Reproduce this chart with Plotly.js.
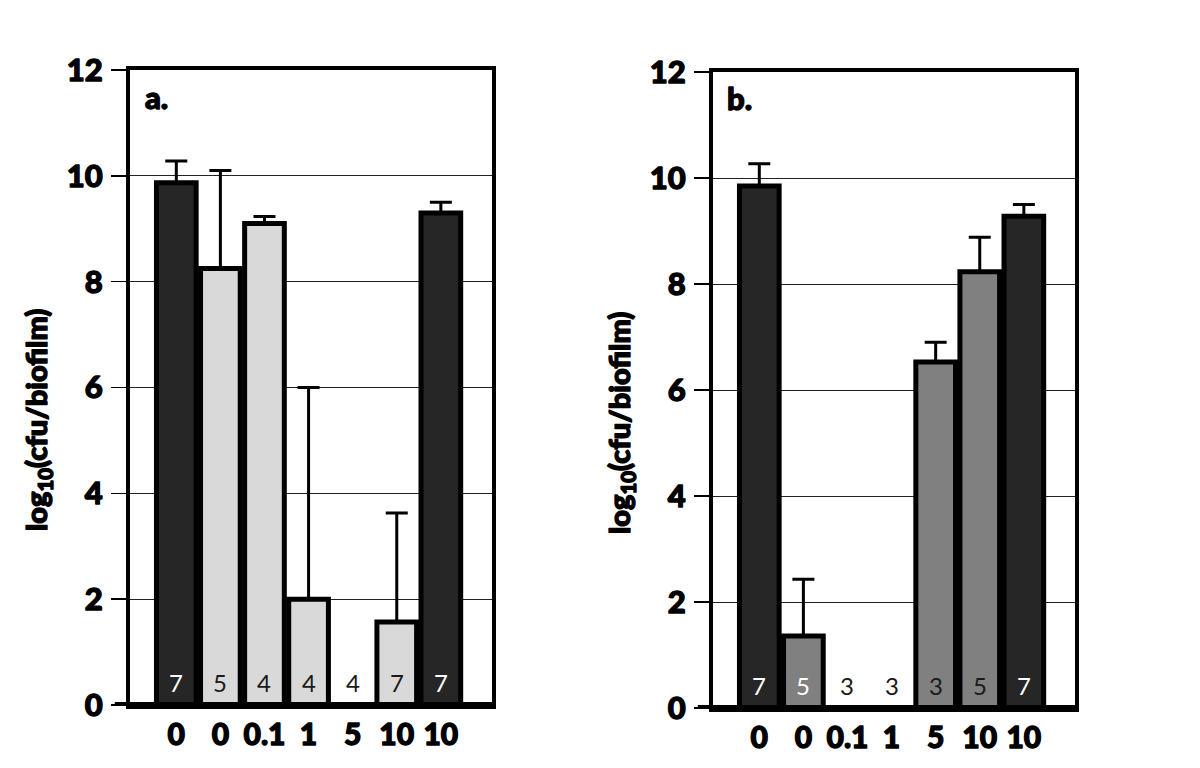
<!DOCTYPE html>
<html>
<head>
<meta charset="utf-8">
<script src="https://cdn.plot.ly/plotly-3.0.1.min.js"></script>
<style>
html,body{margin:0;padding:0;background:#fff;}
#chart{width:1200px;height:768px;}
#chart text[style*="font-weight: 900"]{stroke:#000;stroke-width:1.3px;stroke-linejoin:round;}
</style>
</head>
<body>
<div id="chart"></div>
<script>
// ---- data ----
const tickLabelsA = ["0", "0", "0.1", "1", "5", "10", "10"];
const tickLabelsB = ["0", "0", "0.1", "1", "5", "10", "10"];
const valuesA = [9.87, 8.25, 9.1, 2.0, 0, 1.57, 9.3];
const errTopA = [10.28, 10.1, 9.23, 6.0, 0, 3.63, 9.5];
const valuesB = [9.85, 1.36, 0, 0, 6.53, 8.23, 9.28];
const errTopB = [10.27, 2.43, 0, 0, 6.9, 8.88, 9.5];
const nA = ["7", "5", "4", "4", "4", "7", "7"];
const nB = ["7", "5", "3", "3", "3", "5", "7"];
const colorsA = ["#262626", "#d9d9d9", "#d9d9d9", "#d9d9d9", "#d9d9d9", "#d9d9d9", "#262626"];
const colorsB = ["#262626", "#808080", "#808080", "#808080", "#808080", "#808080", "#262626"];
const nColorsA = ["#ffffff", "#1a1a1a", "#1a1a1a", "#1a1a1a", "#1a1a1a", "#1a1a1a", "#ffffff"];
const nColorsB = ["#ffffff", "#ffffff", "#1a1a1a", "#1a1a1a", "#1a1a1a", "#1a1a1a", "#ffffff"];
const yTitle = "log<sub>10</sub>(cfu/biofilm)";
const yTicks = [0, 2, 4, 6, 8, 10, 12];

// ---- build ----
const pos = tickLabelsA.map((_, i) => i);
const FONT = "Lato, 'Open Sans', sans-serif";
const HEAVY = 900;

function barTrace(vals, errTop, colors, xa, ya) {
  return {
    type: "bar",
    x: pos,
    y: vals,
    xaxis: xa, yaxis: ya,
    width: 0.9,
    marker: { color: colors, line: { color: "#000", width: 5 } },
    error_y: {
      type: "data", symmetric: false,
      array: errTop.map((t, i) => Math.max(0, t - vals[i])),
      arrayminus: vals.map(() => 0),
      color: "#000", thickness: 3, width: 11, visible: true
    },
    hoverinfo: "skip",
    showlegend: false
  };
}

const traces = [
  barTrace(valuesA, errTopA, colorsA, "x", "y"),
  barTrace(valuesB, errTopB, colorsB, "x2", "y2")
];

function xAxis(domain, labels, anchor) {
  return {
    domain: domain, anchor: anchor,
    range: [-1.05, 7.16],
    tickvals: pos, ticktext: labels,
    ticks: "", showgrid: false, zeroline: false,
    showline: true, mirror: true, linecolor: "#000", linewidth: 4,
    tickfont: { family: FONT, size: 30, color: "#000", weight: HEAVY },
    ticklabelstandoff: 0,
    fixedrange: true
  };
}
function yAxis(domain, anchor) {
  return {
    domain: domain, anchor: anchor,
    range: [0, 12],
    tickvals: yTicks,
    ticks: "outside", ticklen: 15, tickwidth: 1.5, tickcolor: "#000",
    showgrid: true, gridcolor: "#222", gridwidth: 1,
    zeroline: false,
    showline: true, mirror: true, linecolor: "#000", linewidth: 4,
    tickfont: { family: FONT, size: 31, color: "#000", weight: HEAVY },
    ticklabelstandoff: 2,
    fixedrange: true
  };
}

const H = 768, W = 1200;
const layout = {
  width: W, height: H,
  margin: { l: 0, r: 0, t: 0, b: 0 },
  paper_bgcolor: "#fff", plot_bgcolor: "#fff",
  bargap: 0,
  xaxis: xAxis([130 / W, 492 / W], tickLabelsA, "y"),
  yaxis: yAxis([1 - 705 / H, 1 - 70 / H], "x"),
  xaxis2: xAxis([713 / W, 1075 / W], tickLabelsB, "y2"),
  yaxis2: yAxis([1 - 708 / H, 1 - 72 / H], "x2"),
  shapes: [
    { type: "line", xref: "x domain", yref: "y", x0: -0.042, x1: 1, y0: 0, y1: 0, line: { color: "#000", width: 6 }, layer: "above" },
    { type: "line", xref: "x2 domain", yref: "y2", x0: -0.042, x1: 1, y0: 0, y1: 0, line: { color: "#000", width: 6 }, layer: "above" }
  ],
  annotations: []
};

nA.forEach((t, i) => layout.annotations.push({
  xref: "x", yref: "y", x: i, y: 0.43, text: t, showarrow: false,
  font: { family: FONT, size: 24, color: nColorsA[i] }
}));
nB.forEach((t, i) => layout.annotations.push({
  xref: "x2", yref: "y2", x: i, y: 0.43, text: t, showarrow: false,
  font: { family: FONT, size: 24, color: nColorsB[i] }
}));
layout.annotations.push(
  { xref: "paper", yref: "paper", x: 143 / W, y: 1 - 97 / H, xanchor: "left", yanchor: "middle", text: "a.", showarrow: false,
    font: { family: FONT, size: 31, color: "#000", weight: HEAVY } },
  { xref: "paper", yref: "paper", x: 725 / W, y: 1 - 98 / H, xanchor: "left", yanchor: "middle", text: "b.", showarrow: false,
    font: { family: FONT, size: 31, color: "#000", weight: HEAVY } },
  { xref: "paper", yref: "paper", x: 37 / W, y: 1 - 420 / H, xanchor: "center", yanchor: "middle", textangle: -90, text: yTitle, showarrow: false,
    font: { family: FONT, size: 29, color: "#000", weight: HEAVY } },
  { xref: "paper", yref: "paper", x: 620 / W, y: 1 - 423 / H, xanchor: "center", yanchor: "middle", textangle: -90, text: yTitle, showarrow: false,
    font: { family: FONT, size: 29, color: "#000", weight: HEAVY } }
);

Plotly.newPlot("chart", traces, layout, { displayModeBar: false, staticPlot: true });
</script>
</body>
</html>
